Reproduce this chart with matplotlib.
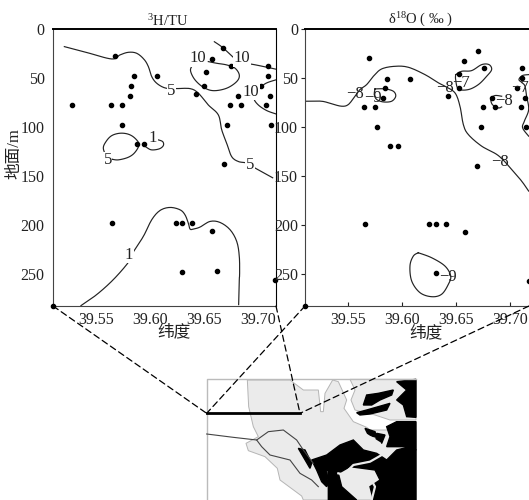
import matplotlib

matplotlib.use("Agg")
import matplotlib.pyplot as plt
import numpy as np
from matplotlib.patches import ConnectionPatch
from matplotlib.transforms import ScaledTranslation

plt.rcParams["font.family"] = ["Liberation Serif", "Noto Sans CJK SC"]
plt.rcParams["mathtext.fontset"] = "stix"
plt.rcParams["mathtext.default"] = "regular"
plt.rcParams["axes.unicode_minus"] = False

# stations, 3H panel (latitude, depth)
h3_lat = [39.528, 39.567, 39.585, 39.606, 39.582, 39.581, 39.564, 39.574, 39.574, 39.588,
          39.594, 39.642, 39.667, 39.657, 39.675, 39.652, 39.650, 39.709, 39.709, 39.703,
          39.681, 39.711, 39.674, 39.684, 39.707, 39.671, 39.712, 39.668, 39.565, 39.624,
          39.629, 39.639, 39.657, 39.629, 39.662, 39.716, 39.510]
h3_depth = [78, 28, 48, 48, 58, 68, 78, 78, 98, 118,
            118, 66, 19, 31, 38, 44, 58, 38, 48, 58,
            68, 68, 78, 78, 78, 98, 98, 138, 198, 198,
            198, 198, 206, 248, 247, 256, 283]

# stations, d18O panel
o18_lat = [39.569, 39.586, 39.607, 39.584, 39.582, 39.565, 39.575, 39.577, 39.589, 39.596,
           39.642, 39.670, 39.657, 39.676, 39.653, 39.653, 39.683, 39.675, 39.686, 39.673,
           39.669, 39.711, 39.711, 39.706, 39.714, 39.710, 39.715, 39.566, 39.625, 39.631,
           39.641, 39.658, 39.631, 39.717, 39.510]
o18_depth = [30, 51, 51, 60, 70, 80, 80, 100, 120, 120,
             68, 22, 33, 40, 46, 60, 70, 80, 80, 100,
             140, 40, 50, 60, 70, 80, 100, 199, 199, 199,
             199, 207, 249, 257, 283]

# 3H isolines
h3_5a_lat = [39.5205, 39.5412, 39.5643, 39.5720, 39.5798, 39.5875, 39.5943, 39.5983, 39.6014, 39.6060,
             39.6137, 39.6230, 39.6369, 39.6446, 39.6538, 39.6631, 39.6662, 39.6708, 39.6754, 39.6816,
             39.6893, 39.6970, 39.7134]
h3_5a_depth = [18, 24, 30.6, 26.5, 23.8, 24.8, 31, 38.4, 48.6, 55.4,
               60.2, 60.9, 60.9, 65.6, 77.6, 87.8, 103, 116.7, 130.3, 135.4,
               137, 142, 152]
h3_5b_lat = [39.5643, 39.5705, 39.5798, 39.5859, 39.5896, 39.5859, 39.5798, 39.5720, 39.5643, 39.5591, 39.5566, 39.5597, 39.5643]
h3_5b_depth = [133, 133.7, 131, 126, 118, 111.6, 107.5, 106.5, 109, 115, 121.8, 130, 133]
h3_10a_lat = [39.6594, 39.6668, 39.6770]
h3_10a_depth = [13, 18.7, 29]
h3_10b_lat = [39.6816, 39.6924, 39.7078, 39.7162]
h3_10b_depth = [35, 35.7, 39, 41]
h3_10c_lat = [39.6430, 39.6384, 39.6375, 39.6415, 39.6492, 39.6585, 39.6708, 39.6801, 39.6825, 39.6785, 39.6708, 39.6615, 39.6538]
h3_10c_depth = [33.3, 38.4, 43.5, 52, 59.5, 63, 60.5, 53.7, 47, 40, 36.7, 35, 33.3]
h3_10d_lat = [39.7162, 39.7063, 39.6986, 39.6961, 39.7001, 39.7078, 39.7162]
h3_10d_depth = [52, 56, 64, 71, 77.6, 83.3, 86.7]
h3_1a_lat = [39.6066, 39.6115, 39.6122, 39.6085, 39.6014, 39.5967, 39.5930]
h3_1a_depth = [113, 115, 119, 122.4, 123.5, 121, 117.7]
h3_1b_lat = [39.5359, 39.5504, 39.5659, 39.5798, 39.5828, 39.5936, 39.6014, 39.6091, 39.6183, 39.6276,
             39.6322, 39.6353, 39.6369, 39.6399, 39.6461, 39.6554, 39.6646, 39.6739, 39.6801, 39.6825,
             39.6828, 39.6825, 39.6819]
h3_1b_depth = [282.6, 271.4, 256, 238.4, 230.6, 212, 194.9, 185.4, 182.3, 184.7,
               189.8, 198.3, 204.4, 204.4, 202.4, 196.6, 197.6, 205, 217, 232.3,
               251, 256, 281.6]

# d18O isolines
o18_8a_lat = [39.5100, 39.5254, 39.5347, 39.5440, 39.5501, 39.5563, 39.5609, 39.5671, 39.5733, 39.5810,
              39.5933, 39.6057, 39.6211, 39.6335, 39.6396, 39.6489, 39.6535, 39.6566, 39.6612, 39.6736,
              39.6890, 39.7014, 39.7106, 39.7171]
o18_8a_depth = [73.8, 73.8, 76.5, 78.9, 77.2, 68.7, 61.9, 56.8, 48.3, 40.8,
                38.1, 39.1, 46.6, 55, 58.5, 65.3, 78.9, 97.6, 107.8, 119.7,
                129.3, 143.5, 155.4, 165.6]
o18_8b_lat = [39.6921, 39.6859, 39.6822, 39.6835, 39.6890, 39.6921]
o18_8b_depth = [68.7, 68, 71.4, 77.2, 80.6, 79.6]
o18_9a_lat = [39.5748, 39.5841, 39.5918, 39.5940, 39.5902, 39.5825, 39.5764, 39.5742, 39.5748]
o18_9a_depth = [61.2, 61.2, 63.6, 68.7, 73.8, 74.5, 72, 67, 61.2]
o18_9b_lat = [39.6149, 39.6103, 39.6072, 39.6088, 39.6165, 39.6273, 39.6365, 39.6427, 39.6449, 39.6396, 39.6273, 39.6149]
o18_9b_depth = [228.6, 232, 242, 257.5, 269.4, 273.5, 271, 260.9, 252.4, 242.2, 233.7, 228.6]
o18_7a_lat = [39.6495, 39.6551, 39.6643, 39.6736, 39.6804, 39.6828, 39.6782, 39.6705, 39.6612, 39.6520, 39.6495, 39.6495]
o18_7a_depth = [46.6, 43.2, 42.5, 36.4, 36.4, 41.5, 48.3, 56.8, 61.9, 61.2, 51.7, 46.6]
o18_7b_lat = [39.7171, 39.7112, 39.7081, 39.7112, 39.7137, 39.7152, 39.7171, 39.7131, 39.7115, 39.7171]
o18_7b_depth = [46.6, 47.6, 51.7, 55, 58.5, 68.7, 82.3, 94.2, 101, 109.5]

# isoline labels
h3_labels = ["5", "10", "10", "10", "1", "5", "5", "1"]
h3_label_lat = [39.6193, 39.6443, 39.6850, 39.6933, 39.6026, 39.5609, 39.6924, 39.5804]
h3_label_depth = [63, 30, 30, 64, 111, 134, 139, 231]
o18_labels = ["−8", "−8", "−8", "−8", "−9", "−7", "−7", "−9"]
o18_label_lat = [39.5563, 39.6396, 39.6943, 39.6906, 39.5730, 39.6544, 39.7091, 39.6424]
o18_label_depth = [66, 60, 74, 136, 71, 55, 60, 253]

depth_ticks = [0, 50, 100, 150, 200, 250]
lat_ticks = [39.55, 39.60, 39.65, 39.70]
lat_labels = ["39.55", "39.60", "39.65", "39.70"]

# location map outlines
land_main = [(172, 120), (300, 120), (340, 150), (385, 150), (392, 215), (400, 215), (405, 160), (428, 120),
             (445, 125), (470, 180), (462, 205), (490, 245), (530, 262), (540, 270), (678, 270), (678, 480),
             (340, 480), (335, 468), (270, 420), (262, 385), (225, 350), (175, 332), (168, 310), (205, 290),
             (190, 260), (176, 200)]
land_north = [(480, 118), (678, 118), (678, 240), (600, 240), (555, 225), (495, 210), (483, 180), (495, 150)]
black_parts = [
    [(520, 195), (530, 165), (565, 160), (610, 150), (605, 165), (570, 180), (545, 195)],
    [(500, 218), (530, 210), (600, 190), (590, 210), (540, 222), (510, 225)],
    [(620, 125), (678, 118), (678, 232), (650, 230), (640, 195), (620, 180), (650, 150)],
    [(365, 360), (410, 345), (450, 315), (490, 300), (520, 330), (560, 340), (590, 360), (620, 330), (660, 320),
     (678, 330), (678, 480), (550, 480), (540, 440), (570, 420), (555, 390), (480, 380), (445, 400), (410, 390),
     (415, 430), (410, 440), (395, 425), (380, 390)],
    [(415, 390), (445, 400), (455, 440), (500, 480), (415, 480)],
    [(590, 260), (620, 245), (678, 245), (678, 330), (640, 320), (590, 320), (600, 290)],
    [(525, 265), (555, 275), (560, 292), (535, 285)],
    [(325, 325), (345, 330), (365, 370), (360, 385)],
    [(560, 280), (585, 285), (575, 310), (558, 300)],
]
river_a = [(50, 282), (130, 292), (200, 300), (215, 320), (240, 345), (300, 360), (330, 400), (365, 420), (385, 440)]
river_b = [(200, 300), (235, 275), (280, 270), (320, 300), (340, 330), (370, 370)]
river_c = [(470, 395), (490, 375), (540, 365), (575, 345), (570, 310), (530, 285), (480, 285)]
river_d = [(445, 400), (490, 410), (530, 395), (555, 440), (545, 480)]
section_x = [50, 330]
section_y = [220, 220]

W, H = 529, 500


def axes_box(left, top, right, bottom):
    return [left / W, 1 - bottom / H, (right - left) / W, (bottom - top) / H]


def smooth(xs, ys, steps=8):
    # rounds off the corners between the points
    pts = np.column_stack([xs, ys])
    pts = np.vstack([pts[0], pts, pts[-1]])
    out = []
    for i in range(1, len(pts) - 2):
        p0, p1, p2, p3 = pts[i - 1], pts[i], pts[i + 1], pts[i + 2]
        for t in np.linspace(0, 1, steps, endpoint=False):
            out.append(0.5 * (2 * p1 + (p2 - p0) * t + (2 * p0 - 5 * p1 + 4 * p2 - p3) * t ** 2
                              + (3 * p1 - p0 - 3 * p2 + p3) * t ** 3))
    out.append(pts[-1])
    out = np.array(out)
    return out[:, 0], out[:, 1]


def draw_panel(ax, lat, depth, lines, labels, label_lat, label_depth, x_shift):
    ax.set_xlim(39.51, 39.51 + (ax.get_position().width * W) / 1080)
    ax.set_ylim(283, 0)
    for line_lat, line_depth in lines:
        ax.plot(*smooth(line_lat, line_depth), color="#222222", lw=0.85, zorder=2)
    ax.scatter(lat, depth, s=9, color="black", zorder=3, clip_on=False)
    for text, x, y in zip(labels, label_lat, label_depth):
        ax.text(x, y, text, ha="center", va="center", fontsize=12, color="#222222", zorder=4)
    ax.set_yticks(depth_ticks)
    ax.set_xticks(lat_ticks, lat_labels)
    ax.tick_params(labelsize=11.5, colors="#222222", pad=3)
    # the labels do not sit exactly under their ticks
    for tick_label, dx in zip(ax.get_xticklabels(), x_shift):
        tick_label.set_transform(tick_label.get_transform() + ScaledTranslation(dx / 100, 0, ax.figure.dpi_scale_trans))
    ax.spines["top"].set_linewidth(1.4)
    ax.spines["left"].set_color("#444444")
    ax.spines["bottom"].set_color("#444444")


fig = plt.figure(figsize=(5.29, 5), dpi=100)

# Location map
map_ax = fig.add_axes(axes_box(190, 340, 430, 500))
map_ax.set_xlim(0, 720)
map_ax.set_ylim(480, 0)
map_ax.axis("off")
map_ax.plot([50, 50, 678], [480, 118, 118], color="#bbbbbb", lw=1)
map_ax.fill(*zip(*land_main), facecolor="#ebebeb", edgecolor="#b5b5b5", lw=0.7)
map_ax.fill(*zip(*land_north), facecolor="#ebebeb", edgecolor="#b5b5b5", lw=0.7)
for part in black_parts:
    map_ax.fill(*zip(*part), color="black")
for river in [river_a, river_b]:
    map_ax.plot(*zip(*river), color="#444444", lw=0.8)
for river in [river_c, river_d]:
    map_ax.plot(*zip(*river), color="#ebebeb", lw=1.6)
map_ax.plot(section_x, section_y, color="black", lw=2)

# 3H panel
ax1 = fig.add_axes(axes_box(53, 29, 276, 306))
h3_lines = [(h3_5a_lat, h3_5a_depth), (h3_5b_lat, h3_5b_depth), (h3_10a_lat, h3_10a_depth),
            (h3_10b_lat, h3_10b_depth), (h3_10c_lat, h3_10c_depth), (h3_10d_lat, h3_10d_depth),
            (h3_1a_lat, h3_1a_depth), (h3_1b_lat, h3_1b_depth)]
draw_panel(ax1, h3_lat, h3_depth, h3_lines, h3_labels, h3_label_lat, h3_label_depth, [-1, -4, -1, -1])
ax1.tick_params(length=0, pad=6)
ax1.tick_params(axis="x", pad=4)
ax1.set_title(r"$^{3}$H/TU", fontsize=10.5, pad=2, x=0.515, color="#222222")
ax1.set_ylabel("地面/m", fontsize=12, color="#222222")
ax1.yaxis.set_label_coords(-0.135, 0.55)
ax1.set_xlabel("纬度", fontsize=12, color="#222222")
ax1.xaxis.set_label_coords(0.543, -0.066)
for t in ax1.texts:
    t.set_bbox(dict(facecolor="white", edgecolor="none", pad=0.2))

# d18O panel
ax2 = fig.add_axes(axes_box(305, 29, 529, 306))
o18_lines = [(o18_8a_lat, o18_8a_depth), (o18_8b_lat, o18_8b_depth), (o18_9a_lat, o18_9a_depth),
             (o18_9b_lat, o18_9b_depth), (o18_7a_lat, o18_7a_depth), (o18_7b_lat, o18_7b_depth)]
draw_panel(ax2, o18_lat, o18_depth, o18_lines, o18_labels, o18_label_lat, o18_label_depth, [3, -1, 2, 2])
ax2.spines["right"].set_visible(False)
ax2.tick_params(axis="y", length=3, width=0.8, direction="out", pad=2)
ax2.tick_params(axis="x", length=3, width=0.8, direction="in", pad=4)
ax2.set_title(r"δ$^{18}$O ( ‰ )", fontsize=10.5, pad=2, x=0.515, color="#222222")
ax2.set_xlabel("纬度", fontsize=12, color="#222222")
ax2.xaxis.set_label_coords(0.54, -0.07)

# Dashed guides from the panels down to the section on the map
guides = [(ax1, 39.51, section_x[0]), (ax1, ax1.get_xlim()[1], section_x[1]),
          (ax2, 39.51, section_x[0]), (ax2, ax2.get_xlim()[1], section_x[1])]
for ax, lat_end, map_x in guides:
    fig.add_artist(ConnectionPatch((lat_end, 283), (map_x, 220), coordsA=ax.transData, coordsB=map_ax.transData,
                                   color="black", lw=0.9, linestyle=(0, (5, 3))))

fig.savefig("out.png", dpi=100)
